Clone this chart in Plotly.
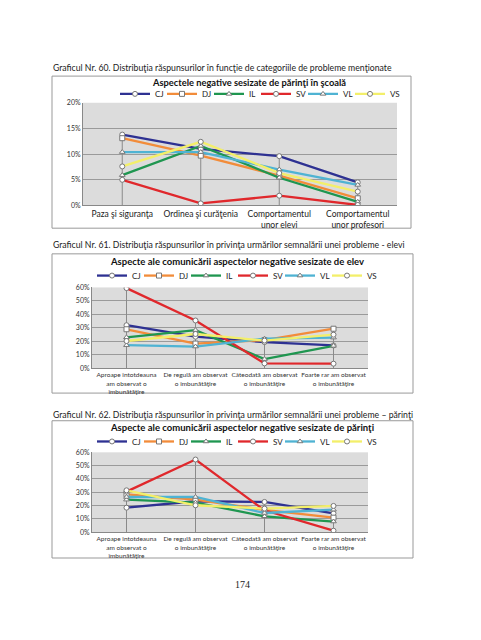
import plotly.graph_objects as go

W, H = 481, 640

series = ["CJ", "DJ", "IL", "SV", "VL", "VS"]
colors = {"CJ": "#2e3192", "DJ": "#f28c3a", "IL": "#1f9650", "SV": "#e0282c", "VL": "#4fb3d3", "VS": "#f3ef6a"}
symbols = {"CJ": "circle", "DJ": "square", "IL": "triangle-up", "SV": "circle", "VL": "triangle-up", "VS": "circle"}

# Chart 60
cats1 = ["Paza şi siguranţa", "Ordinea şi curăţenia", "Comportamentul<br>unor elevi", "Comportamentul<br>unor profesori"]
c1_CJ = [13.8, 11.0, 9.6, 4.5]
c1_DJ = [13.1, 9.7, 5.8, 1.4]
c1_IL = [5.9, 11.6, 5.4, 0.7]
c1_SV = [5.0, 0.4, 1.9, 0.1]
c1_VL = [10.4, 10.4, 7.0, 4.0]
c1_VS = [7.6, 12.4, 6.3, 2.7]

# Chart 61
cats2 = ["Aproape întotdeauna<br>am observat o<br>îmbunătăţire", "De regulă am observat<br>o îmbunătăţire",
         "Câteodată am observat<br>o îmbunătăţire", "Foarte rar am observat<br>o îmbunătăţire"]
c2_CJ = [32, 23.5, 19.5, 17]
c2_DJ = [29, 18.4, 21, 29.4]
c2_IL = [23, 28.4, 6.9, 16.7]
c2_SV = [59.5, 35.5, 3.7, 3.5]
c2_VL = [17.2, 16.2, 22, 22.8]
c2_VS = [20.3, 25.5, 20.6, 25]

# Chart 62
cats3 = cats2
c3_CJ = [18.5, 23.3, 22.8, 14.2]
c3_DJ = [28.5, 24.5, 16.8, 11.0]
c3_IL = [24.5, 22.3, 12.0, 8.1]
c3_SV = [30.5, 54.6, 16.5, 1.2]
c3_VL = [26.5, 26.5, 14.5, 17.0]
c3_VS = [31.5, 20.3, 17.8, 19.8]

data1 = dict(CJ=c1_CJ, DJ=c1_DJ, IL=c1_IL, SV=c1_SV, VL=c1_VL, VS=c1_VS)
data2 = dict(CJ=c2_CJ, DJ=c2_DJ, IL=c2_IL, SV=c2_SV, VL=c2_VL, VS=c2_VS)
data3 = dict(CJ=c3_CJ, DJ=c3_DJ, IL=c3_IL, SV=c3_SV, VL=c3_VL, VS=c3_VS)

FONT = "Lato"

def px(x):
    return x / W

def py(y):
    return 1 - y / H

fig = go.Figure()

charts = [
    ("", data1, cats1, "legend"),
    ("2", data2, cats2, "legend2"),
    ("3", data3, cats3, "legend3"),
]

for suf, data, cats, leg in charts:
    # drop lines from each category's highest value down to 0
    xs, ys = [], []
    for i, c in enumerate(cats):
        m = max(data[s][i] for s in series)
        xs += [c, c, None]
        ys += [0, m, None]
    fig.add_trace(go.Scatter(x=xs, y=ys, mode="lines", line=dict(color="#8a8a8a", width=1),
                             xaxis="x" + suf, yaxis="y" + suf, showlegend=False, hoverinfo="skip"))
    for s in series:
        fig.add_trace(go.Scatter(
            x=cats, y=data[s], name=s, mode="lines+markers",
            line=dict(color=colors[s], width=2.3),
            marker=dict(symbol=symbols[s], size=5, color="white", line=dict(color="#777777", width=1)),
            xaxis="x" + suf, yaxis="y" + suf, legend=leg,
            legendwidth=(20 if s == series[-1] else None)))

axis_common = dict(showgrid=False, showline=True, linecolor="#888888", linewidth=1, ticks="", tickangle=0,
                   tickfont=dict(family=FONT, size=6.5, color="#333333"), fixedrange=True)
yaxis_common = dict(showgrid=True, gridcolor="#9a9a9a", gridwidth=1, showline=True, linecolor="#888888",
                    ticksuffix="%", tickfont=dict(family=FONT, size=7, color="#333333"), zeroline=False,
                    fixedrange=True)

legend_common = dict(orientation="h", yanchor="middle", xanchor="left", entrywidth=2,
                     font=dict(family=FONT, size=8, color="#222222"), bgcolor="rgba(0,0,0,0)",
                     itemwidth=30, tracegroupgap=0)

fig.update_layout(
    width=W, height=H, margin=dict(l=0, r=0, t=0, b=0),
    paper_bgcolor="white", plot_bgcolor="#dcdcdc",
    xaxis=dict(axis_common, domain=[px(83), px(397)], anchor="y", range=[-0.5, 3.5],
               tickfont=dict(family=FONT, size=8.5, color="#222222")),
    yaxis=dict(yaxis_common, domain=[py(203), py(99)], anchor="x", range=[0, 20], dtick=5),
    xaxis2=dict(axis_common, domain=[px(92), px(368)], anchor="y2", range=[-0.5, 3.5]),
    yaxis2=dict(yaxis_common, domain=[py(368), py(286)], anchor="x2", range=[0, 60], dtick=10),
    xaxis3=dict(axis_common, domain=[px(92), px(368)], anchor="y3", range=[-0.5, 3.5]),
    yaxis3=dict(yaxis_common, domain=[py(534), py(453)], anchor="x3", range=[0, 60], dtick=10),
    legend=dict(legend_common, x=px(115), y=py(90)),
    legend2=dict(legend_common, x=px(92), y=py(274)),
    legend3=dict(legend_common, x=px(92), y=py(442)),
)

shapes = []
for (x0, x1, y0, y1) in [(52, 411, 72, 226), (52, 413, 252, 393), (52, 413, 421, 560)]:
    shapes.append(dict(type="rect", xref="paper", yref="paper", x0=px(x0), x1=px(x1), y0=py(y1), y1=py(y0),
                       line=dict(color="#999999", width=1), fillcolor="rgba(0,0,0,0)", layer="below"))
fig.update_layout(shapes=shapes)

annotations = []
captions = [
    ("Graficul Nr. 60. Distribuţia răspunsurilor în funcţie de categoriile de probleme menţionate", 63),
    ("Graficul Nr. 61. Distribuţia răspunsurilor în privinţa urmărilor semnalării unei probleme - elevi", 243),
    ("Graficul Nr. 62. Distribuţia răspunsurilor în privinţa urmărilor semnalării unei probleme – părinţi", 415),
]
for txt, y in captions:
    annotations.append(dict(text=txt, x=px(51), y=py(y), xref="paper", yref="paper", xanchor="left",
                            yanchor="middle", showarrow=False, font=dict(family=FONT, size=8.7, color="#222222")))
titles = [
    ("Aspectele negative sesizate de părinţi în şcoală", 150, 78, 9.3),
    ("Aspecte ale comunicării aspectelor negative sesizate de elev", 108, 260, 9.5),
    ("Aspecte ale comunicării aspectelor negative sesizate de părinţi", 108, 428, 9.5),
]
for txt, x, y, fs in titles:
    annotations.append(dict(text="<b>" + txt + "</b>", x=px(x), y=py(y), xref="paper", yref="paper",
                            xanchor="left", yanchor="middle", showarrow=False,
                            font=dict(family=FONT, size=fs, color="#111111")))
annotations.append(dict(text="174", x=px(242), y=py(594), xref="paper", yref="paper", showarrow=False,
                        font=dict(family="Liberation Serif", size=10, color="#222222")))
fig.update_layout(annotations=annotations)

fig.write_html("out.html", config={"displayModeBar": False},
               post_script="document.body.style.margin='0px';")
